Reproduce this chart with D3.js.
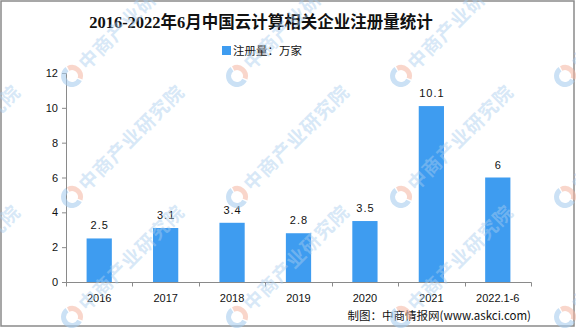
<!DOCTYPE html>
<html>
<head>
<meta charset="utf-8">
<script src="https://cdn.jsdelivr.net/npm/d3@7"></script>
<style>
  html, body { margin: 0; padding: 0; background: #fff; }
  svg { display: block; }
</style>
</head>
<body>
<script>
// Registered cloud-computing enterprises per year (unit: 10k)
const categories = ["2016", "2017", "2018", "2019", "2020", "2021", "2022.1-6"];
const values = [2.5, 3.1, 3.4, 2.8, 3.5, 10.1, 6];
const yTicks = [0, 2, 4, 6, 8, 10, 12];
const titleText = "2016-2022年6月中国云计算相关企业注册量统计";
const legendText = "注册量：万家";
const sourceText = "制图：中商情报网(www.askci.com)";
const watermarkText = "中商产业研究院";

const W = 576, H = 329;
const latin = "'Liberation Sans', 'Noto Sans CJK SC', sans-serif";
const cjk = "'Noto Sans CJK SC', sans-serif";

const svg = d3.select("body").append("svg")
  .attr("width", W).attr("height", H);

svg.append("rect").attr("width", W).attr("height", H).attr("fill", "#fff");

// outer frame
svg.append("rect")
  .attr("x", 1).attr("y", 1).attr("width", 573).attr("height", 325)
  .attr("fill", "none").attr("stroke", "#8a8a8a").attr("stroke-width", 1.5);

// title
svg.append("text")
  .attr("x", 261).attr("y", 28)
  .attr("text-anchor", "middle")
  .attr("font-family", "'Liberation Serif', 'Noto Sans CJK SC', serif")
  .attr("font-weight", "bold")
  .attr("font-size", 16.5)
  .attr("fill", "#111")
  .text(titleText);

// legend
svg.append("rect").attr("x", 222).attr("y", 46).attr("width", 9).attr("height", 9)
  .attr("fill", "#3e9cf0");
svg.append("text")
  .attr("x", 233).attr("y", 55)
  .attr("font-family", cjk).attr("font-size", 11.5).attr("fill", "#111")
  .text(legendText);

const x = d3.scaleBand().domain(categories).range([66, 531])
  .paddingInner(0.62).paddingOuter(0.31);
const y = d3.scaleLinear().domain([0, 12]).range([282, 73]);

// y axis
const yAxis = svg.append("g").attr("transform", "translate(66,0)")
  .call(d3.axisLeft(y).tickValues(yTicks).tickSize(4).tickPadding(4).tickFormat(d3.format("d")));
yAxis.select(".domain").attr("stroke", "#8a8a8a").attr("d", "M-4,73.5H0.5V282.5");
yAxis.selectAll(".tick line").attr("stroke", "#8a8a8a");
yAxis.selectAll(".tick text").attr("font-family", latin).attr("font-size", 11).attr("fill", "#111");

// x axis with ticks at band boundaries
const xAxisG = svg.append("g").attr("transform", "translate(0,282.5)");
xAxisG.append("line").attr("x1", 66).attr("x2", 531.5).attr("stroke", "#8a8a8a");
const bounds = categories.map(c => x(c) - x.step() * x.paddingInner() / 2);
bounds.push(531);
xAxisG.selectAll("line.tk").data(bounds).join("line").attr("class", "tk")
  .attr("x1", d => Math.round(d) + 0.5).attr("x2", d => Math.round(d) + 0.5)
  .attr("y1", 0).attr("y2", 4).attr("stroke", "#8a8a8a");
xAxisG.selectAll("text").data(categories).join("text")
  .attr("x", d => x(d) + x.bandwidth() / 2)
  .attr("y", 19)
  .attr("text-anchor", "middle")
  .attr("font-family", latin).attr("font-size", 11).attr("fill", "#111")
  .text(d => d);

// bars
const data = categories.map((c, i) => ({ c, v: values[i] }));
svg.append("g").selectAll("rect").data(data).join("rect")
  .attr("x", d => x(d.c)).attr("width", x.bandwidth())
  .attr("y", d => y(d.v)).attr("height", d => y(0) - y(d.v))
  .attr("fill", "#3e9cf0");

// value labels
svg.append("g").selectAll("text").data(data).join("text")
  .attr("x", d => x(d.c) + x.bandwidth() / 2 + 0.5)
  .attr("y", d => y(d.v) - 9)
  .attr("text-anchor", "middle")
  .attr("font-family", latin).attr("font-size", 11).attr("letter-spacing", 1)
  .attr("fill", "#111")
  .text(d => String(d.v));

// source note
svg.append("text")
  .attr("x", 531).attr("y", 320)
  .attr("text-anchor", "end")
  .attr("font-family", cjk).attr("font-size", 11.5).attr("fill", "#111")
  .text(sourceText);

// watermark grid (only positions that land inside the canvas)
const wmX = [-92, 72, 237, 401, 565];
const wmY = [76, 197, 317];
const wm = svg.append("g").attr("pointer-events", "none");
wmY.forEach(cy => wmX.forEach(cx => {
  if (cx < 0 && cy < 100) return;
  const g = wm.append("g").attr("transform", `translate(${cx},${cy}) rotate(-45)`);
  const arc = d3.arc().innerRadius(6).outerRadius(11);
  g.append("path").attr("d", arc({ startAngle: Math.PI * 0.9, endAngle: Math.PI * 2.05 }))
    .attr("fill", "#a9cdee").attr("opacity", 0.6);
  g.append("path").attr("d", arc({ startAngle: Math.PI * 0.1, endAngle: Math.PI * 0.85 }))
    .attr("fill", "#f4b4a0").attr("opacity", 0.55);
  g.append("text")
    .attr("x", 14).attr("y", 7)
    .attr("font-family", cjk).attr("font-weight", "bold")
    .attr("font-size", 19).attr("letter-spacing", 1)
    .attr("fill", "#a9cdee").attr("opacity", 0.45)
    .text(watermarkText);
}));
</script>
</body>
</html>
